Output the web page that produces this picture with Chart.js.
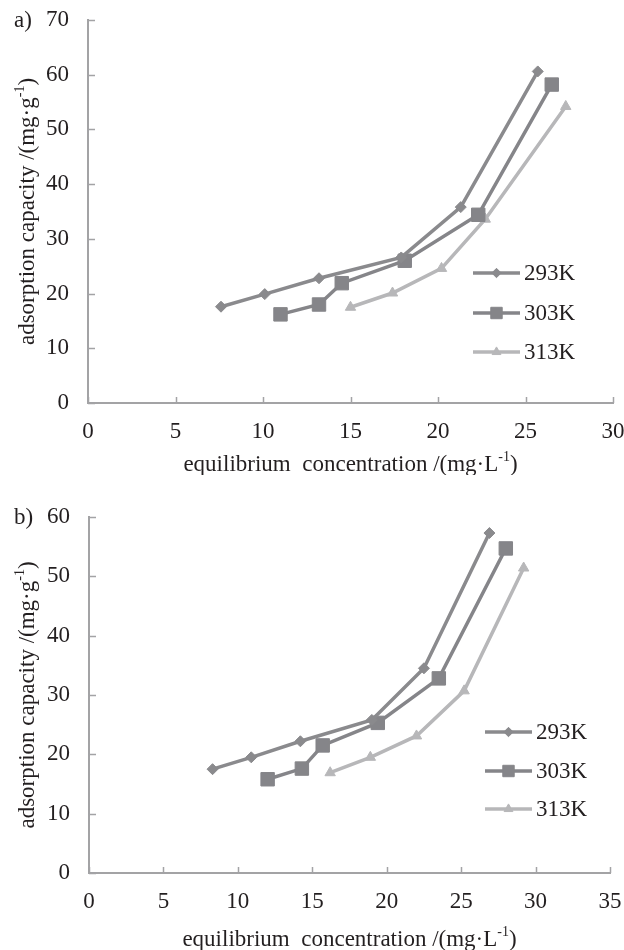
<!DOCTYPE html>
<html>
<head>
<meta charset="utf-8">
<script src="https://cdn.jsdelivr.net/npm/chart.js@4.4.1/dist/chart.umd.min.js"></script>
<style>
  html, body { margin: 0; padding: 0; background: #fff; }
  .wrap { position: relative; width: 624px; height: 475px; }
  canvas { display: block; }
</style>
</head>
<body>
<div class="wrap"><canvas id="chartA" width="624" height="475"></canvas></div>
<div class="wrap"><canvas id="chartB" width="624" height="475"></canvas></div>
<script>
// ---------- DATA ----------
const seriesNames = ['293K', '303K', '313K'];

// panel a)
const a293x = [7.6, 10.1, 13.2, 17.9, 21.3, 25.7];
const a293y = [17.6, 19.9, 22.8, 26.6, 35.8, 60.6];
const a303x = [11.0, 13.2, 14.5, 18.1, 22.3, 26.5];
const a303y = [16.2, 18.0, 21.9, 26.0, 34.4, 58.2];
const a313x = [15.0, 17.4, 20.2, 22.7, 27.3];
const a313y = [17.5, 20.1, 24.6, 33.6, 54.2];
const aXTicks = [0, 5, 10, 15, 20, 25, 30];
const aYTicks = [0, 10, 20, 30, 40, 50, 60, 70];

// panel b)
const b293x = [8.3, 10.9, 14.2, 19.0, 22.5, 26.9];
const b293y = [17.5, 19.5, 22.2, 25.8, 34.5, 57.3];
const b303x = [12.0, 14.3, 15.7, 19.4, 23.5, 28.0];
const b303y = [15.8, 17.6, 21.5, 25.3, 32.8, 54.7];
const b313x = [16.2, 18.9, 22.0, 25.2, 29.2];
const b313y = [16.9, 19.5, 23.1, 30.7, 51.4];
const bXTicks = [0, 5, 10, 15, 20, 25, 30, 35];
const bYTicks = [0, 10, 20, 30, 40, 50, 60];

const panelLabels = ['a)', 'b)'];
const xTitleParts = [{t: 'equilibrium  concentration /(mg·L'}, {t: '-1', sup: true}, {t: ')'}];
const yTitleParts = [{t: 'adsorption capacity /(mg·g'}, {t: '-1', sup: true}, {t: ')'}];

// ---------- STYLE ----------
const FONT = "'Liberation Serif', 'Times New Roman', serif";
const TEXT = '#231f20';
const AXIS = '#a3a3a5';
const TICK_SIZE = 23;
const TITLE_SIZE = 23;
const seriesStyle = [
  {color: '#8a8a8d', pointStyle: 'rectRot', radius: 5.5},
  {color: '#858589', pointStyle: 'rect', radius: 9.5},
  {color: '#b7b7b9', pointStyle: 'triangle', radius: 6}
];

function zip(xs, ys) { return xs.map((x, i) => ({x: x, y: ys[i]})); }

function drawRich(ctx, parts, size, cx, cy) {
  const supSize = Math.round(size * 0.62);
  let total = 0;
  parts.forEach(p => {
    ctx.font = (p.sup ? supSize : size) + 'px ' + FONT;
    p.w = ctx.measureText(p.t).width;
    total += p.w;
  });
  let x = cx - total / 2;
  ctx.textBaseline = 'alphabetic';
  ctx.textAlign = 'left';
  parts.forEach(p => {
    ctx.font = (p.sup ? supSize : size) + 'px ' + FONT;
    ctx.fillText(p.t, x, cy + size * 0.33 - (p.sup ? size * 0.42 : 0));
    x += p.w;
  });
}

const decorPlugin = {
  id: 'decor',
  afterDraw(chart, args, opts) {
    const ctx = chart.ctx;
    const xs = chart.scales.x, ys = chart.scales.y;
    const area = chart.chartArea;
    ctx.save();
    // inward tick marks
    ctx.strokeStyle = AXIS;
    ctx.lineWidth = 1.5;
    xs.ticks.forEach(t => {
      const px = Math.round(xs.getPixelForValue(t.value)) + 0.5;
      ctx.beginPath(); ctx.moveTo(px, area.bottom); ctx.lineTo(px, area.bottom - 6); ctx.stroke();
    });
    ys.ticks.forEach(t => {
      const py = Math.round(ys.getPixelForValue(t.value)) + 0.5;
      ctx.beginPath(); ctx.moveTo(area.left, py); ctx.lineTo(area.left + 7, py); ctx.stroke();
    });
    // panel label
    ctx.fillStyle = TEXT;
    ctx.font = TICK_SIZE + 'px ' + FONT;
    ctx.textAlign = 'left';
    ctx.textBaseline = 'middle';
    ctx.fillText(opts.panel, 14, ys.getPixelForValue(ys.max) + 1);
    // axis titles
    drawRich(ctx, xTitleParts.map(p => Object.assign({}, p)), TITLE_SIZE, (area.left + area.right) / 2, opts.xTitleY);
    ctx.save();
    ctx.translate(opts.yTitleX, (area.top + area.bottom) / 2);
    ctx.rotate(-Math.PI / 2);
    drawRich(ctx, yTitleParts.map(p => Object.assign({}, p)), TITLE_SIZE, 0, 0);
    ctx.restore();
    // legend
    chart.data.datasets.forEach((ds, i) => {
      const ly = opts.legendY[i];
      ctx.strokeStyle = ds.borderColor;
      ctx.lineWidth = 3.5;
      ctx.beginPath(); ctx.moveTo(opts.legendX, ly); ctx.lineTo(opts.legendX + 47, ly); ctx.stroke();
      ctx.fillStyle = ds.pointBackgroundColor;
      ctx.strokeStyle = ds.pointBorderColor;
      ctx.lineWidth = 1;
      Chart.helpers.drawPoint(ctx, {pointStyle: ds.pointStyle, radius: ds.pointRadius * 0.85, borderWidth: 1, rotation: 0}, opts.legendX + 23.5, ly);
      ctx.fillStyle = TEXT;
      ctx.font = '23px ' + FONT;
      ctx.textAlign = 'left';
      ctx.textBaseline = 'middle';
      ctx.fillText(ds.label, opts.legendX + 51, ly + 1);
    });
    ctx.restore();
  }
};

function makeChart(id, series, xTicks, yTicks, layout) {
  const datasets = series.map((s, i) => ({
    label: seriesNames[i],
    data: zip(s[0], s[1]),
    showLine: true,
    borderColor: seriesStyle[i].color,
    backgroundColor: seriesStyle[i].color,
    pointBackgroundColor: seriesStyle[i].color,
    pointBorderColor: seriesStyle[i].color,
    pointStyle: seriesStyle[i].pointStyle,
    pointRadius: seriesStyle[i].radius,
    pointBorderWidth: 1,
    borderWidth: 3.5,
    tension: 0
  }));
  return new Chart(document.getElementById(id), {
    type: 'scatter',
    data: {datasets: datasets},
    options: {
      responsive: false,
      animation: false,
      devicePixelRatio: 1,
      layout: {padding: {top: layout.top, right: layout.right, left: 0, bottom: 0}},
      plugins: {
        legend: {display: false},
        tooltip: {enabled: false},
        decor: {panel: layout.panel, xTitleY: layout.xTitleY, yTitleX: 26, legendX: layout.legendX, legendY: layout.legendY}
      },
      scales: {
        x: {
          type: 'linear',
          min: xTicks[0], max: xTicks[xTicks.length - 1],
          afterBuildTicks(s) { s.ticks = xTicks.map(v => ({value: v})); },
          ticks: {color: TEXT, font: {family: FONT, size: TICK_SIZE}, padding: 15, maxRotation: 0},
          grid: {display: true, drawOnChartArea: false, drawTicks: false},
          border: {color: AXIS, width: 2},
          afterFit(s) { s.height = 475 - layout.bottom; s.paddingLeft = 0; s.paddingRight = 0; }
        },
        y: {
          type: 'linear',
          min: yTicks[0], max: yTicks[yTicks.length - 1],
          afterBuildTicks(s) { s.ticks = yTicks.map(v => ({value: v})); },
          ticks: {color: TEXT, font: {family: FONT, size: TICK_SIZE}, padding: 19},
          grid: {display: true, drawOnChartArea: false, drawTicks: false},
          border: {color: AXIS, width: 2},
          afterFit(s) { s.width = layout.left; s.paddingTop = 0; s.paddingBottom = 0; }
        }
      }
    },
    plugins: [decorPlugin]
  });
}

makeChart('chartA', [[a293x, a293y], [a303x, a303y], [a313x, a313y]], aXTicks, aYTicks,
  {panel: panelLabels[0], top: 20, right: 11, bottom: 403, left: 88, xTitleY: 463, legendX: 473, legendY: [273, 313, 352]});
makeChart('chartB', [[b293x, b293y], [b303x, b303y], [b313x, b313y]], bXTicks, bYTicks,
  {panel: panelLabels[1], top: 42, right: 14, bottom: 398, left: 89, xTitleY: 463, legendX: 485, legendY: [257, 296, 334]});
</script>
</body>
</html>
